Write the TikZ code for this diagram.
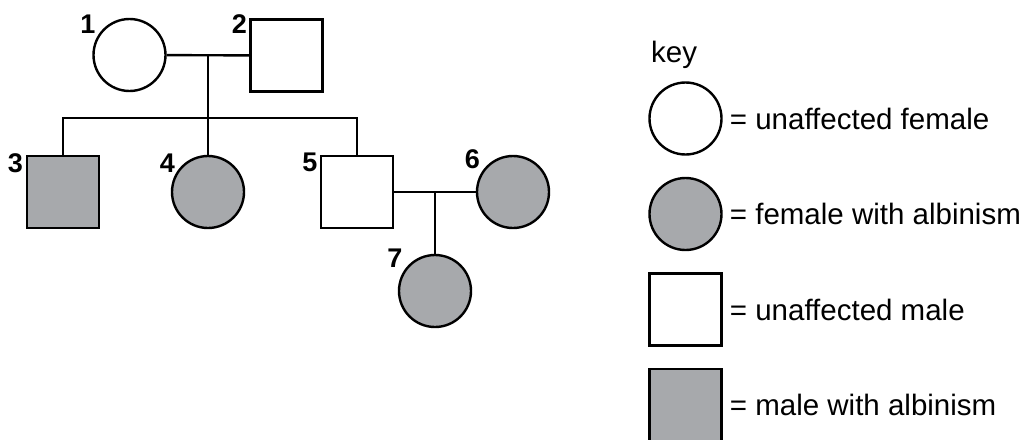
\documentclass[tikz,border=0pt]{standalone}
\usepackage{fontspec}
\setmainfont{Liberation Sans}
\usetikzlibrary{positioning}
\definecolor{albino}{RGB}{167,169,172}

\begin{document}
\begin{tikzpicture}[x=1pt, y=-1pt, line width=2.4pt,
  female/.style={draw, circle, minimum size=72pt, inner sep=0pt},
  male/.style={draw, rectangle, minimum size=72pt, inner sep=0pt},
  num/.style={inner sep=0pt, font=\fontsize{27}{32}\selectfont\bfseries},
  keytext/.style={inner sep=0pt, font=\fontsize{29.5}{34}\selectfont}]
\useasboundingbox (0,0) rectangle (1022,439);
\clip (0,0) rectangle (1022,439);
% 个体
\node[female] (p1) at (129.5,55) {};
\node[male] (p2) at (286.5,55.5) {};
\node[male, fill=albino] (p3) at (63,192) {};
\node[female, fill=albino] (p4) at (208,192) {};
\node[male] (p5) at (357,192) {};
\node[female, fill=albino] (p6) at (513,192) {};
\node[female, fill=albino] (p7) at (435,291) {};

% 编号
\node[num] (n1) at (88,24) {1};
\node[num] (n2) at (239.5,24) {2};
\node[num] (n3) at (15.5,163) {3};
\node[num] (n4) at (167.5,163) {4};
\node[num] (n5) at (310,162.5) {5};
\node[num] (n6) at (472.5,159) {6};
\node[num] (n7) at (395,258) {7};

% 连线
\coordinate (m12) at (208,56);
\coordinate (sib) at (208,118);
\coordinate (m56) at (435,192);
\draw (p1) -- (p2);
\draw (m12) -- (p4.north);
\draw (p3.north) |- (sib) -| (p5.north);
\draw (p5) -- (p6);
\draw (m56) -- (p7.north);

% 图例
\node[keytext, anchor=base west] (key) at (650,62) {key};
\node[female] (k1) at (685.5,118.5) {};
\node[female, fill=albino] (k2) at (685.5,214) {};
\node[male] (k3) at (685.5,309.5) {};
\node[male, fill=albino] (k4) at (685.5,405) {};
\node[keytext, right=6pt of k1] (t1) {= unaffected female};
\node[keytext, right=6pt of k2] (t2) {= female with albinism};
\node[keytext, right=6pt of k3] (t3) {= unaffected male};
\node[keytext, right=6pt of k4] (t4) {= male with albinism};
\end{tikzpicture}
\end{document}
